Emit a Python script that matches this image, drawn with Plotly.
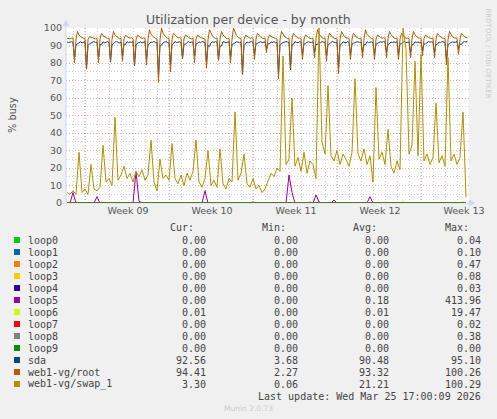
import pandas as pd
import plotly.graph_objects as go

# plot area in page pixels (rrdtool canvas)
L, R, T, B = 66, 469, 28, 203

GRAY = "rgba(150,150,150,0.45)"
RED = "rgba(235,110,110,0.6)"
AXIS = "#CFD6F8"
TXT = "#555555"

week_lines = ["2026-02-22", "2026-03-01", "2026-03-08", "2026-03-15", "2026-03-22"]
week_label_pos = ["2026-02-25 14:00", "2026-03-04 14:00", "2026-03-11 14:00",
                  "2026-03-18 14:00", "2026-03-25 14:00"]
week_labels = ["Week 09", "Week 10", "Week 11", "Week 12", "Week 13"]

# sda and root: samples every 3 hours (one row = one day)
sda = [
    92.0, 91.7, 91.9, 92.2, 91.6, 83, 90.4, 90.9,
    91.8, 92.1, 91.5, 91.9, 92.2, 76.5, 90.1, 91.0,
    91.6, 92.0, 92.3, 91.7, 91.9, 83, 90.6, 90.5,
    92.1, 91.5, 91.8, 92.2, 91.6, 80.5, 90.3, 91.2,
    91.9, 92.3, 91.7, 91.4, 92.0, 84, 90.8, 90.6,
    92.2, 91.6, 92.0, 91.8, 92.3, 78.5, 90.2, 91.3,
    91.7, 92.1, 91.5, 91.9, 92.2, 82, 90.5, 90.9,
    92.0, 91.8, 92.4, 91.6, 91.9, 73, 89.8, 90.2,
    91.5, 91.9, 92.2, 91.7, 91.4, 79, 90.4, 91.1,
    92.3, 91.7, 91.9, 92.1, 91.6, 82.5, 90.7, 90.7,
    91.8, 92.2, 91.6, 92.0, 91.8, 84, 90.9, 91.2,
    92.1, 91.5, 92.3, 91.9, 91.7, 80, 89.9, 89.5,
    91.6, 92.0, 91.8, 92.2, 91.9, 81.5, 89.6, 89.8,
    92.2, 91.9, 91.5, 91.8, 92.1, 83, 90.5, 91.0,
    91.7, 92.1, 92.0, 91.6, 91.9, 73.5, 89.9, 90.8,
    92.0, 91.6, 91.9, 92.3, 91.7, 85, 90.8, 91.3,
    91.8, 92.2, 91.7, 91.9, 92.0, 88, 91.0, 90.9,
    92.1, 91.7, 92.2, 91.5, 91.8, 74, 90.1, 91.2,
    91.6, 91.9, 92.3, 92.0, 91.7, 76, 90.3, 90.7,
    92.2, 91.8, 91.6, 92.1, 91.9, 85, 90.9, 91.1,
    91.9, 92.1, 91.7, 91.8, 92.2, 86, 90.6, 90.6,
    92.0, 91.6, 92.2, 91.9, 91.7, 84, 90.4, 91.0,
    91.7, 92.3, 91.8, 91.6, 92.0, 77, 90.2, 90.8,
    92.1, 91.9, 91.5, 92.2, 91.8, 85, 90.7, 91.3,
    91.8, 92.0, 92.2, 91.7, 91.9, 86, 90.5, 90.5,
    92.2, 91.6, 91.9, 92.0, 91.5, 85, 90.8, 91.2,
    91.6, 92.1, 91.8, 92.3, 91.9, 86, 90.6, 90.9,
    92.0, 91.7, 92.1, 91.8, 92.2, 85, 90.9, 91.1,
    91.9, 92.2, 91.6, 91.9, 92.0, 86, 90.4, 90.7,
    92.1, 91.8, 92.0, 91.6, 91.9, 87, 90.8, 91.0,
    91.7, 92.2, 91.9, 92.1, 91.8, 86, 90.6, 90.8,
    92.0, 91.6, 92.3, 91.8, 91.7, 82, 90.3, 91.2,
    91.8, 92.1, 91.7, 92.0, 92.2, 88, 90.9, 90.6,
    91.9, 92.2, 92.0, 92.56,
]
root = [
    94.2, 94.0, 93.8, 94.1, 94.3, 80, 93.6, 98,
    96.0, 95.1, 94.5, 94.2, 93.9, 77, 93.4, 95,
    94.8, 94.4, 94.1, 93.8, 94.0, 80, 93.7, 97,
    95.6, 94.9, 94.3, 94.0, 94.2, 81, 93.5, 98,
    95.8, 95.0, 94.4, 93.9, 94.1, 81, 93.8, 96,
    95.1, 94.6, 94.2, 94.4, 93.9, 79, 93.3, 96,
    95.2, 94.7, 94.0, 94.3, 94.1, 79, 93.6, 99,
    96.5, 95.4, 94.6, 94.1, 93.8, 69, 93.2, 100,
    97.0, 95.6, 94.7, 94.2, 94.0, 75, 93.5, 97,
    95.9, 94.9, 94.3, 94.5, 94.1, 83, 93.9, 96,
    95.3, 94.6, 94.1, 93.8, 94.2, 80, 93.6, 96,
    95.2, 94.5, 94.3, 94.0, 93.7, 77, 93.4, 99,
    96.7, 95.3, 94.5, 94.1, 94.3, 82, 93.7, 98,
    96.1, 95.0, 94.2, 93.9, 94.1, 80, 93.5, 100,
    97.2, 95.7, 94.6, 94.2, 93.9, 74, 93.3, 96,
    95.4, 94.7, 94.1, 94.4, 94.0, 82, 93.8, 97,
    95.8, 94.9, 94.3, 94.0, 94.2, 86, 94.0, 96,
    95.2, 94.6, 94.4, 94.1, 93.8, 71, 93.2, 98,
    96.3, 95.1, 94.5, 94.0, 94.2, 77, 93.6, 97,
    95.7, 94.8, 94.2, 94.3, 94.0, 82, 93.7, 96,
    95.1, 94.6, 94.1, 93.9, 94.2, 83, 93.9, 99,
    96.6, 95.2, 94.4, 94.1, 94.3, 81, 93.6, 97,
    95.7, 94.8, 94.2, 94.0, 93.8, 74, 93.4, 98,
    96.0, 95.0, 94.4, 94.2, 94.1, 82, 93.7, 97,
    95.6, 94.7, 94.3, 93.9, 94.2, 83, 93.8, 99,
    96.4, 95.1, 94.5, 94.1, 94.0, 82, 93.6, 96,
    95.1, 94.6, 94.2, 94.4, 94.1, 83, 93.9, 98,
    96.2, 95.0, 94.3, 94.0, 94.2, 82, 93.7, 97,
    95.6, 94.8, 94.1, 94.3, 93.9, 83, 93.8, 98,
    96.1, 95.0, 94.4, 94.2, 94.0, 84, 93.9, 96,
    95.2, 94.6, 94.2, 94.0, 94.3, 83, 93.6, 97,
    95.7, 94.8, 94.3, 94.1, 93.9, 79, 93.4, 98,
    96.0, 94.9, 94.4, 94.2, 94.1, 85, 93.8, 97,
    95.6, 94.9, 94.6, 94.41,
]
# swap and loops: samples every 6 hours
swap = [
    6, 5, 7, 5, 29, 6, 8, 5, 22, 8, 7, 9, 33, 12, 14, 10, 49, 13, 16, 21,
    14, 17, 12, 18, 15, 19, 13, 16, 36, 12, 7, 25, 14, 16, 13, 34, 14, 11, 16, 10,
    17, 13, 18, 36, 12, 9, 14, 30, 10, 13, 9, 31, 11, 8, 14, 12, 52, 13, 17, 28,
    11, 9, 14, 8, 10, 6, 8, 13, 17, 15, 20, 18, 84, 22, 25, 60, 21, 26, 18, 29,
    17, 24, 22, 14, 100, 35, 28, 67, 27, 24, 30, 22, 28, 25, 21, 29, 71, 28, 24, 31,
    22, 27, 12, 66, 25, 29, 22, 42, 21, 17, 24, 19, 100, 88, 28, 33, 81, 27, 85, 24,
    28, 22, 26, 57, 23, 27, 21, 83, 24, 28, 22, 26, 52, 3.3,
]
# sparse spikes (sample index, value)
loop5_idx = [2, 10, 23, 24, 46, 62, 74, 75, 81, 83, 84, 89, 101]
loop5_val = [6, 3.6, 18, 1, 7, 0.6, 16, 6, 0.5, 4.6, 0.6, 1.7, 3.6]
loop6_idx = [112, 132]
loop6_val = [0.8, 0.8]

names = ["loop0", "loop1", "loop2", "loop3", "loop4", "loop5", "loop6",
         "loop7", "loop8", "loop9", "sda", "web1-vg/root", "web1-vg/swap_1"]
colors = ["#00CC00", "#0066B3", "#FF8000", "#FFCC00", "#330099", "#990099",
          "#CCFF00", "#FF0000", "#808080", "#008F00", "#00487D", "#B35A00", "#B38F00"]
cur = [0, 0, 0, 0, 0, 0, 0.01, 0, 0, 0, 92.56, 94.41, 3.30]
mins = [0, 0, 0, 0, 0, 0, 0, 0, 0, 0, 3.68, 2.27, 0.06]
avg = [0, 0, 0, 0, 0, 0.18, 0.01, 0, 0, 0, 90.48, 93.32, 21.21]
maxs = [0.04, 0.10, 0.47, 0.08, 0.03, 413.96, 19.47, 0.02, 0.38, 0.00, 95.10, 100.26, 100.29]

n = len(swap)
times6 = pd.date_range("2026-02-20 12:00", periods=n, freq="6h")
times3 = pd.date_range("2026-02-20 12:00", periods=len(root), freq="3h")


def sparse(idx, val):
    out = [0.0] * n
    for i, v in zip(idx, val):
        out[i] = v
    return out


series = {name: (times6, [0.0] * n) for name in names[:10]}
series["loop5"] = (times6, sparse(loop5_idx, loop5_val))
series["loop6"] = (times6, sparse(loop6_idx, loop6_val))
series["sda"] = (times3, sda)
series["web1-vg/root"] = (times3, root)
series["web1-vg/swap_1"] = (times6, swap)


def xp(x):
    return (x - L) / (R - L)


def yp(y):
    return (B - y) / (B - T)


fig = go.Figure()
for name, col in zip(names, colors):
    xs, ys = series[name]
    fig.add_trace(go.Scatter(x=xs, y=ys, mode="lines", name=name,
                             line=dict(color=col, width=1), hoverinfo="skip"))

shapes = []
for d in week_lines:
    shapes.append(dict(type="line", xref="x", yref="paper", x0=d, x1=d, y0=0, y1=1,
                       line=dict(color=RED, width=1, dash="1px,2px"), layer="between"))
# axis lines with arrows
shapes.append(dict(type="line", xref="paper", yref="paper", x0=xp(66), x1=xp(66),
                   y0=yp(203), y1=yp(24), line=dict(color=AXIS, width=1)))
shapes.append(dict(type="line", xref="paper", yref="paper", x0=xp(62), x1=xp(471),
                   y0=yp(203), y1=yp(203), line=dict(color=AXIS, width=1), layer="below"))
shapes.append(dict(type="path", xref="paper", yref="paper",
                   path=f"M {xp(62.5)} {yp(26)} L {xp(69.5)} {yp(26)} L {xp(66)} {yp(19.5)} Z",
                   fillcolor=AXIS, line=dict(width=0)))
shapes.append(dict(type="path", xref="paper", yref="paper",
                   path=f"M {xp(469)} {yp(199.5)} L {xp(469)} {yp(206.5)} L {xp(475.5)} {yp(203)} Z",
                   fillcolor=AXIS, line=dict(width=0)))

mono = dict(family="DejaVu Sans Mono", size=10, color="#444444")
ann = []
ann.append(dict(x=xp(248.5), y=yp(19), xref="paper", yref="paper", showarrow=False,
                text="Utilization per device - by month", xanchor="center", yanchor="middle",
                font=dict(family="DejaVu Sans", size=12.5, color=TXT)))
ann.append(dict(x=xp(12), y=yp(115), xref="paper", yref="paper", showarrow=False,
                text="% busy", textangle=-90, xanchor="center", yanchor="middle",
                font=dict(family="DejaVu Sans", size=9.8, color=TXT)))
ann.append(dict(x=xp(487.5), y=yp(53), xref="paper", yref="paper", showarrow=False,
                text="RRDTOOL / TOBI OETIKER", textangle=90, xanchor="center", yanchor="middle",
                font=dict(family="DejaVu Sans", size=7, color="#CCCCCC")))
for hdr, xr in zip(["Cur:", "Min:", "Avg:", "Max:"], [195.5, 287.5, 378.5, 470.5]):
    ann.append(dict(x=xp(xr), y=yp(227.5), xref="paper", yref="paper", showarrow=False,
                    text=hdr, xanchor="right", yanchor="middle", font=mono))
for r, name in enumerate(names):
    yc = 240 + 12 * r
    shapes.append(dict(type="rect", xref="paper", yref="paper", x0=xp(14), x1=xp(20),
                       y0=yp(yc - 3), y1=yp(yc + 3), fillcolor=colors[r], line=dict(width=0)))
    ann.append(dict(x=xp(25.5), y=yp(yc), xref="paper", yref="paper", showarrow=False,
                    text=name, xanchor="left", yanchor="middle", font=mono))
    for vals, xr in zip([cur, mins, avg, maxs], [208, 300, 391, 483]):
        ann.append(dict(x=xp(xr), y=yp(yc), xref="paper", yref="paper", showarrow=False,
                        text=f"{vals[r]:.2f}", xanchor="right", yanchor="middle", font=mono))
ann.append(dict(x=xp(483), y=yp(396), xref="paper", yref="paper", showarrow=False,
                text="Last update: Wed Mar 25 17:00:09 2026", xanchor="right",
                yanchor="middle", font=mono))
ann.append(dict(x=xp(248), y=yp(408.5), xref="paper", yref="paper", showarrow=False,
                text="Munin 2.0.73", xanchor="center", yanchor="middle",
                font=dict(family="DejaVu Sans", size=7.5, color="#CCCCCC")))

fig.update_layout(
    width=497, height=419,
    margin=dict(l=L, r=497 - R, t=T, b=419 - B, pad=0),
    paper_bgcolor="#F0F0F0", plot_bgcolor="#FFFFFF",
    showlegend=False,
    font=dict(family="DejaVu Sans", size=9.5, color=TXT),
    shapes=shapes, annotations=ann,
)
fig.update_xaxes(
    type="date", range=["2026-02-20 10:00", "2026-03-26 00:00"],
    tickmode="array", tickvals=week_label_pos, ticktext=week_labels,
    showgrid=False, zeroline=False, showline=False, ticks="",
    tickfont=dict(size=9.5, color=TXT),
    minor=dict(tickmode="linear", tick0="2026-02-21", dtick=86400000, showgrid=True,
               gridcolor=GRAY, griddash="1px,2px", gridwidth=1),
)
fig.update_yaxes(
    range=[0, 100], tickmode="linear", tick0=0, dtick=10,
    showgrid=True, gridcolor=RED, griddash="1px,2px", gridwidth=1,
    zeroline=False, showline=False, ticks="", ticklabelstandoff=3,
    tickfont=dict(size=9.5, color=TXT),
    minor=dict(dtick=5, showgrid=True, gridcolor=GRAY, griddash="1px,2px", gridwidth=1),
)

# page body has a default 8px margin; drop it so the figure fills the window
fig.write_html("out.html", config={"displayModeBar": False},
               post_script="document.body.style.margin='0px';")
